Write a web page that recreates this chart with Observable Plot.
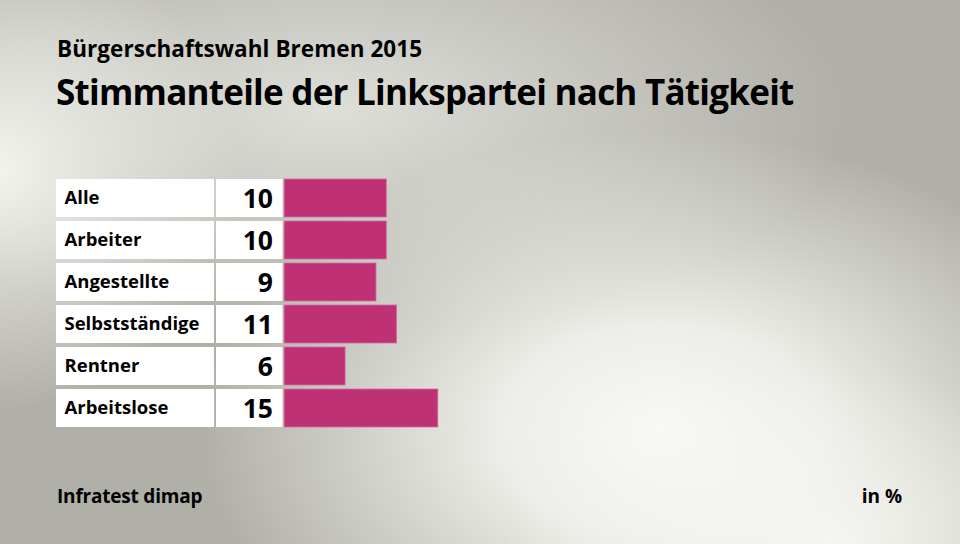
<!DOCTYPE html>
<html>
<head>
<meta charset="utf-8">
<script src="https://cdn.jsdelivr.net/npm/d3@7"></script>
<script src="https://cdn.jsdelivr.net/npm/@observablehq/plot@0.6"></script>
<style>
  html, body { margin: 0; padding: 0; }
  body { width: 960px; height: 544px; overflow: hidden; }
  #wrap {
    position: relative; width: 960px; height: 544px; overflow: hidden;
    font-family: "Open Sans", "Noto Sans", sans-serif; font-weight: 700; color: #000;
    background:
      radial-gradient(ellipse 460px 300px at 660px 430px, rgba(248,248,244,1) 0%, rgba(248,248,244,0.85) 35%, rgba(248,248,244,0) 100%),
      radial-gradient(ellipse 330px 170px at 830px 540px, rgba(244,244,239,0.95) 0%, rgba(244,244,239,0) 100%),
      radial-gradient(ellipse 240px 240px at 0px 170px, rgba(246,246,241,0.95) 0%, rgba(246,246,241,0) 100%),
      radial-gradient(ellipse 520px 220px at 330px 110px, rgba(228,228,223,0.9) 0%, rgba(228,228,223,0) 100%),
      #b0b0a8;
  }
  .t { position: absolute; white-space: nowrap; }
  #sub { left: 57px; top: 33px; font-size: 22.5px; letter-spacing: 0.05px; }
  #title { left: 56px; top: 68px; font-size: 35px; letter-spacing: -0.75px; }
  #src { left: 57px; top: 483px; font-size: 19px; letter-spacing: -0.2px; }
  #unit { right: 58px; top: 483px; font-size: 19px; }
  #chart { position: absolute; left: 0; top: 0; }
</style>
</head>
<body>
<div id="wrap">
  <div class="t" id="sub">Bürgerschaftswahl Bremen 2015</div>
  <div class="t" id="title">Stimmanteile der Linkspartei nach Tätigkeit</div>
  <div id="chart"></div>
  <div class="t" id="src">Infratest dimap</div>
  <div class="t" id="unit">in %</div>
</div>
<script>
const categories = ["Alle", "Arbeiter", "Angestellte", "Selbstständige", "Rentner", "Arbeitslose"];
const values = [10, 10, 9, 11, 6, 15];

const rows = categories.map((c, i) => ({category: c, value: values[i]}));

// layout (pixels) converted to x-scale units
const X0 = 283.7, K = 10.3;
const u = p => (p - X0) / K;

const chart = Plot.plot({
  width: 960,
  height: 544,
  margin: 0,
  style: {background: "transparent", fontFamily: "'Open Sans', 'Noto Sans', sans-serif"},
  x: {domain: [u(0), u(960)], range: [0, 960], axis: null},
  y: {domain: categories, range: [177, 429], paddingInner: 0.1, paddingOuter: 0.05, axis: null},
  marks: [
    Plot.barX(rows, {y: "category", x1: u(56), x2: u(214), fill: "#ffffff"}),
    Plot.barX(rows, {y: "category", x1: u(216), x2: u(282.5), fill: "#ffffff"}),
    Plot.barX(rows, {y: "category", x: "value", fill: "#be3175", stroke: "#d66aa0", strokeWidth: 0.8, insetLeft: 0.4, insetRight: 0.4}),
    Plot.text(rows, {y: "category", x: u(64), text: "category", textAnchor: "start", fontSize: 18.5, fontWeight: 700, fill: "#000", dy: 0}),
    Plot.text(rows, {y: "category", x: u(272.5), text: d => String(d.value), textAnchor: "end", fontSize: 26.5, fontWeight: 700, fill: "#000", dy: 1.5})
  ]
});
document.getElementById("chart").appendChild(chart);
</script>
</body>
</html>
